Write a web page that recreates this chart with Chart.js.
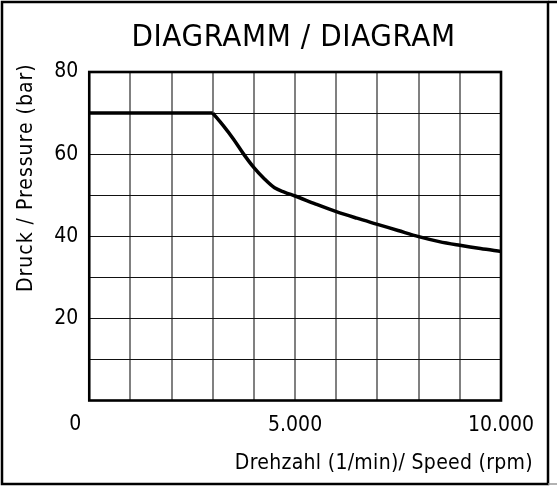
<!DOCTYPE html>
<html>
<head>
<meta charset="utf-8">
<script src="https://cdn.jsdelivr.net/npm/chart.js@4/dist/chart.umd.min.js"></script>
<style>
html,body{margin:0;padding:0;background:#fff;}
#wrap{position:relative;width:557px;height:487px;}
canvas{display:block;}
</style>
</head>
<body>
<div id="wrap"><canvas id="c" width="557" height="487"></canvas></div>
<script>
// ---- data ----
const speedRpm = [0, 3000, 3250, 3500, 3750, 4000, 4250, 4500, 4750, 5000, 5500, 6000, 6500, 7000, 7500, 8000, 8500, 9000, 9500, 10000];
const pressureBar = [70, 70, 67.0, 63.7, 60.0, 56.7, 54.0, 51.8, 50.7, 49.8, 47.85, 46.0, 44.4, 42.9, 41.4, 39.9, 38.7, 37.8, 37.0, 36.3];
const kneeIndex = 1; // constant-pressure section ends here
const xTickValues = [0, 5000, 10000];
const xTickLabels = ['0', '5.000', '10.000'];
const yTickValues = [20, 40, 60, 80];
const yTickLabels = ['20', '40', '60', '80'];
const titleText = 'DIAGRAMM / DIAGRAM';
const xTitleText = 'Drehzahl (1/min)/ Speed (rpm)';
const yTitleText = 'Druck / Pressure (bar)';

const FONT = '"DejaVu Sans Condensed", "DejaVu Sans", sans-serif';

const pts = speedRpm.map((x, i) => ({ x: x, y: pressureBar[i] }));

const decor = {
  id: 'decor',
  afterDraw(chart) {
    const ctx = chart.ctx;
    const a = chart.chartArea;
    const xs = chart.scales.x;
    ctx.save();
    // plot frame
    ctx.strokeStyle = '#000';
    ctx.lineWidth = 2.6;
    ctx.strokeRect(a.left, a.top, a.right - a.left, a.bottom - a.top);
    // outer border
    ctx.lineWidth = 2.5;
    ctx.strokeRect(2, 2, 546, 482);
    ctx.beginPath();
    ctx.moveTo(548, 2); ctx.lineTo(557, 2);
    ctx.stroke();
    ctx.strokeStyle = '#999';
    ctx.lineWidth = 1.5;
    ctx.beginPath();
    ctx.moveTo(548, 484); ctx.lineTo(557, 484);
    ctx.stroke();
    // title
    ctx.fillStyle = '#000';
    ctx.font = '31px ' + FONT;
    ctx.letterSpacing = '0.6px';
    ctx.textAlign = 'center';
    ctx.textBaseline = 'alphabetic';
    ctx.fillText(titleText, 293.5, 46);
    // zero label (shared corner)
    ctx.letterSpacing = '0px';
    ctx.font = '21px ' + FONT;
    ctx.textAlign = 'center';
    ctx.textBaseline = 'middle';
    ctx.fillText(xTickLabels[0], xs.getPixelForValue(xTickValues[0]) - 14, 425);
    // x title
    ctx.textAlign = 'right';
    ctx.textBaseline = 'alphabetic';
    ctx.letterSpacing = '0.3px';
    ctx.fillText(xTitleText, 533, 469);
    // y title
    ctx.letterSpacing = '1px';
    ctx.translate(32, 292);
    ctx.rotate(-Math.PI / 2);
    ctx.textAlign = 'left';
    ctx.textBaseline = 'alphabetic';
    ctx.fillText(yTitleText, 0, 0);
    ctx.restore();
  }
};

new Chart(document.getElementById('c'), {
  type: 'line',
  data: {
    datasets: [{
      data: pts.slice(0, kneeIndex + 1),
      borderColor: '#000',
      borderWidth: 3.5,
      pointRadius: 0,
      tension: 0,
      fill: false
    }, {
      data: pts.slice(kneeIndex),
      borderColor: '#000',
      borderWidth: 3.5,
      pointRadius: 0,
      cubicInterpolationMode: 'monotone',
      fill: false
    }]
  },
  options: {
    responsive: false,
    animation: false,
    devicePixelRatio: 1,
    layout: { padding: { left: 0, top: 72, right: 56, bottom: 0 } },
    plugins: { legend: { display: false }, title: { display: false }, tooltip: { enabled: false } },
    scales: {
      x: {
        type: 'linear', min: 0, max: 10000,
        afterFit(s) { s.height = 86.5; },
        afterBuildTicks(s) { s.ticks = []; for (let v = 0; v <= 10000; v += 1000) s.ticks.push({ value: v }); },
        ticks: {
          autoSkip: false, maxRotation: 0, padding: 12, color: '#000',
          font: { family: FONT, size: 21 },
          callback(v) { const i = xTickValues.indexOf(v); return (i > 0) ? xTickLabels[i] : ''; }
        },
        grid: { color: '#808080', lineWidth: 2, drawTicks: false },
        border: { display: false }
      },
      y: {
        type: 'linear', min: 0, max: 80,
        afterFit(s) { s.width = 89.25; },
        afterBuildTicks(s) { s.ticks = []; for (let v = 0; v <= 80; v += 10) s.ticks.push({ value: v }); },
        ticks: {
          autoSkip: false, padding: 11, color: '#000',
          font: { family: FONT, size: 21 },
          callback(v) { const i = yTickValues.indexOf(v); return i >= 0 ? yTickLabels[i] : ''; }
        },
        grid: { color: '#111', lineWidth: 1, drawTicks: false },
        border: { display: false }
      }
    }
  },
  plugins: [decor]
});
</script>
</body>
</html>
